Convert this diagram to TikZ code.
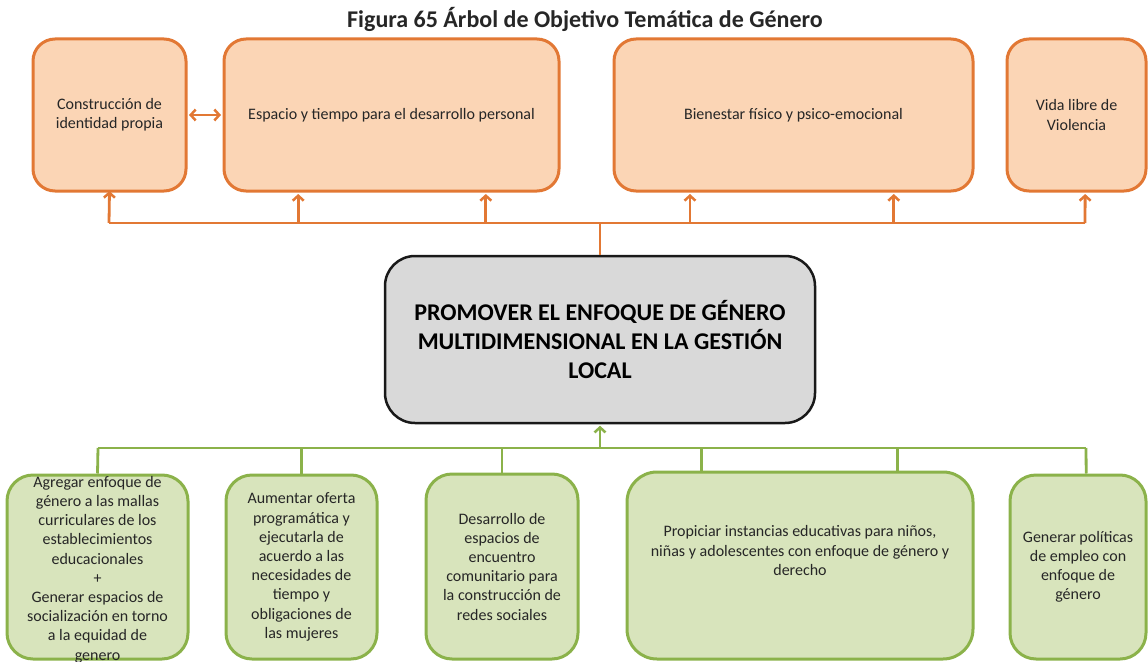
\documentclass[tikz,border=0pt]{standalone}
\usepackage{fontspec}
\setmainfont{Carlito}
\usetikzlibrary{arrows.meta,calc}
\definecolor{oline}{RGB}{226,120,52}
\definecolor{ofill}{RGB}{251,213,181}
\definecolor{gline}{RGB}{139,178,74}
\definecolor{gfill}{RGB}{216,228,188}
\definecolor{cfill}{RGB}{217,217,217}
\definecolor{cline}{RGB}{25,25,25}
\definecolor{txt}{RGB}{38,38,38}
\begin{document}
\begin{tikzpicture}[x=1pt,y=-1pt,
  boxtext/.style={inner sep=0pt, align=center, text=txt, font=\fontsize{16}{19.2}\selectfont},
  obox/.style={boxtext, draw=oline, fill=ofill, line width=3pt, rounded corners=22pt},
  gbox/.style={boxtext, draw=gline, fill=gfill, line width=3pt, rounded corners=26pt},
  cbox/.style={inner sep=0pt, align=center, text=black, draw=cline, fill=cfill, line width=2.5pt, rounded corners=30pt, font=\fontsize{24}{29}\selectfont\bfseries},
  tip/.tip={Straight Barb[length=5pt,width=11pt,line width=2.5pt]},
  ocon/.style={draw=oline, line width=2.8pt},
  gcon/.style={draw=gline, line width=2.8pt}
]
\useasboundingbox (0,0) rectangle (1148,661);

% title
\node[anchor=base, inner sep=0pt, text=txt, font=\fontsize{24}{29}\selectfont\bfseries] (title) at (585,28) {Figura 65 Árbol de Objetivo Temática de Género};

% top (objectives)
\node[obox, minimum width=153pt, minimum height=152pt] (T1) at (109.5,115) {Construcción de\\identidad propia};
\node[obox, minimum width=335pt, minimum height=152pt] (T2) at (391.5,115) {Espacio y tiempo para el desarrollo personal};
\node[obox, minimum width=359pt, minimum height=152pt] (T3) at (793.5,115) {Bienestar físico y psico-emocional};
\node[obox, minimum width=139pt, minimum height=152pt] (T4) at (1076.5,115) {Vida libre de\\Violencia};

% centre
\node[cbox, minimum width=430pt, minimum height=167pt] (C) at (600,339.5) {PROMOVER EL ENFOQUE DE GÉNERO\\MULTIDIMENSIONAL EN LA GESTIÓN\\LOCAL};

% bottom (means)
\node[gbox, minimum width=181pt, minimum height=184pt] (B1) at (97.5,567) {};
\node[boxtext] (B1t) at (97.5,569.5) {Agregar enfoque de\\género a las mallas\\curriculares de los\\establecimientos\\educacionales\\+\\Generar espacios de\\socialización en torno\\a la equidad de\\genero};
\node[gbox, minimum width=151pt, minimum height=184pt] (B2) at (301.5,567) {Aumentar oferta\\programática y\\ejecutarla de\\acuerdo a las\\necesidades de\\tiempo y\\obligaciones de\\las mujeres};
\node[gbox, minimum width=152pt, minimum height=185pt] (B3) at (502,566.5) {Desarrollo de\\espacios de\\encuentro\\comunitario para\\la construcción de\\redes sociales};
\node[gbox, rounded corners=30pt, minimum width=346pt, minimum height=187pt] (B4) at (800,565.5) {};
\node[boxtext] (B4t) at ($(B4.center)+(0,-15)$) {Propiciar instancias educativas para niños,\\niñas y adolescentes con enfoque de género y\\derecho};
\node[gbox, minimum width=136pt, minimum height=184pt] (B5) at (1078,567) {Generar políticas\\de empleo con\\enfoque de\\género};

% orange connectors
\coordinate (ob) at (600,223);
\coordinate (obL) at (109,223);
\coordinate (obR) at (1085,223);
\draw[ocon] (C.north) -- (ob);
\draw[ocon] (obL) -- (obR);
\coordinate (t2a) at ($(T2.south west)!0.224!(T2.south east)$);
\coordinate (t2b) at ($(T2.south west)!0.779!(T2.south east)$);
\coordinate (t3a) at ($(T3.south west)!0.214!(T3.south east)$);
\coordinate (t3b) at ($(T3.south west)!0.777!(T3.south east)$);
\coordinate (t4a) at ($(T4.south west)!0.561!(T4.south east)$);
\draw[ocon,-{tip}] (obL) -- ($(T1.south)+(0,-1.5)$);
\draw[ocon,-{tip}] (t2a |- ob) -- ($(t2a)+(0,1.5)$);
\draw[ocon,-{tip}] (t2b |- ob) -- ($(t2b)+(0,1.5)$);
\draw[ocon,-{tip}] (t3a |- ob) -- ($(t3a)+(0,1.5)$);
\draw[ocon,-{tip}] (t3b |- ob) -- ($(t3b)+(0,1.5)$);
\draw[ocon,-{tip}] (obR) -- ($(t4a)+(0,1.5)$);
\draw[ocon,{tip}-{tip}] ($(T1.east)+(1.5,0)$) -- ($(T2.west)+(-1.5,0)$);

% green connectors
\coordinate (gb) at (600,448);
\coordinate (gbL) at (98,448);
\coordinate (gbR) at (1086,448);
\draw[gcon] (gbL) -- (gbR);
\draw[gcon,-{tip}] (gb) -- ($(C.south)+(0,1.5)$);
\coordinate (b4a) at ($(B4.north west)!0.217!(B4.north east)$);
\coordinate (b4b) at ($(B4.north west)!0.780!(B4.north east)$);
\coordinate (b5a) at ($(B5.north west)!0.559!(B5.north east)$);
\draw[gcon] (gbL) -- (B1.north);
\draw[gcon] (B2.north |- gb) -- (B2.north);
\draw[gcon] (B3.north |- gb) -- (B3.north);
\draw[gcon] (b4a |- gb) -- (b4a);
\draw[gcon] (b4b |- gb) -- (b4b);
\draw[gcon] (gbR) -- (b5a);
\end{tikzpicture}
\end{document}
